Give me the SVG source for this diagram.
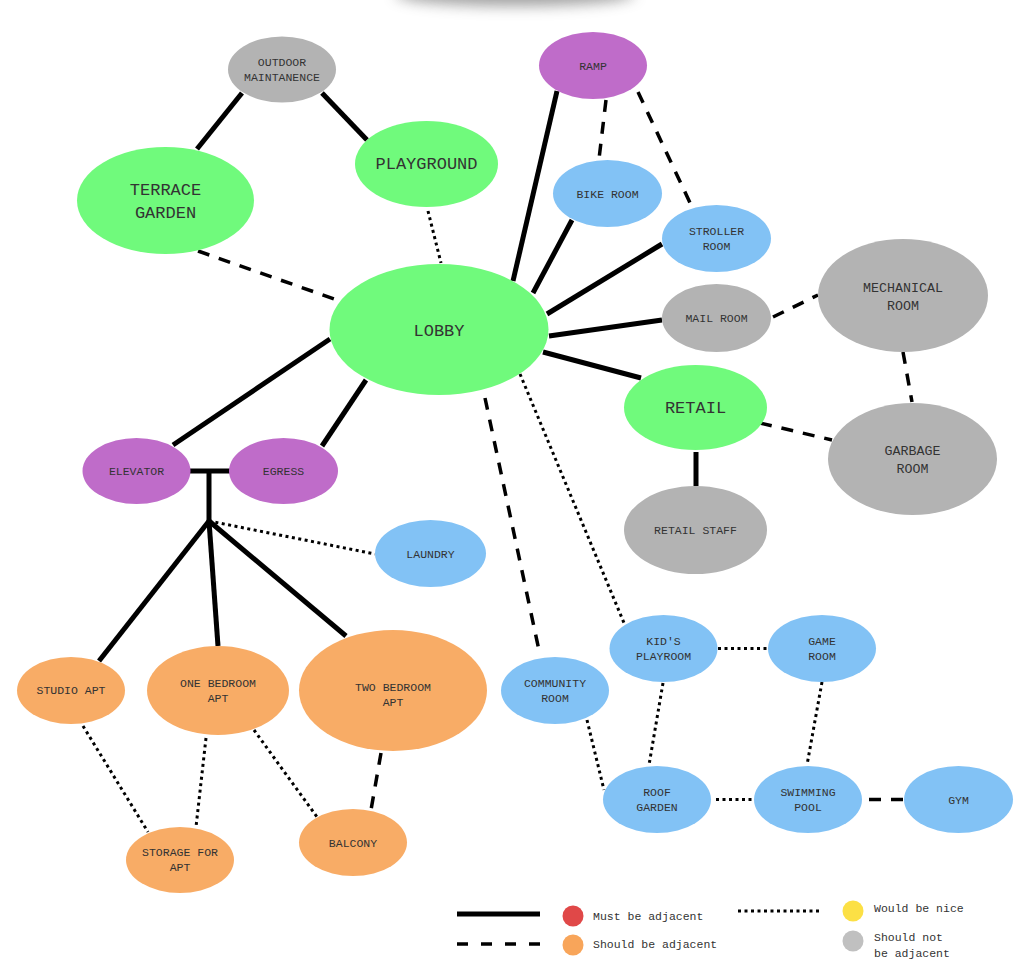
<svg xmlns="http://www.w3.org/2000/svg" width="1027" height="973" viewBox="0 0 1027 973">
<defs>
<filter id="blur" x="-50%" y="-200%" width="200%" height="500%"><feGaussianBlur stdDeviation="7"/></filter>
<style>
.g{fill:#70FA7C}.p{fill:#BF6CC9}.b{fill:#82C2F5}.k{fill:#B3B3B3}.o{fill:#F8AC66}
text{font-family:"Liberation Mono","DejaVu Sans Mono",monospace;fill:#333;text-anchor:middle}
.s{font-size:11.5px}.m{font-size:13.3px}.l{font-size:17px}
.lg{font-size:11.5px;text-anchor:start}
.solid{stroke:#000;stroke-width:5;fill:none}
.dash{stroke:#000;stroke-width:3.5;stroke-dasharray:12 10;fill:none}
.dot{stroke:#000;stroke-width:3;stroke-dasharray:3 3.5;fill:none}
</style>
</defs>
<rect width="1027" height="973" fill="#fff"/>
<ellipse cx="515" cy="-6" rx="120" ry="12" fill="#555" opacity="0.55" filter="url(#blur)"/>

<g id="connectors">
<line class="solid" x1="242" y1="93" x2="197" y2="149"/>
<line class="solid" x1="322" y1="93" x2="367" y2="140"/>
<line class="dash" x1="198" y1="251" x2="340" y2="301"/>
<line class="dot" x1="428" y1="211" x2="441" y2="263"/>
<line class="solid" x1="513" y1="281" x2="557" y2="91"/>
<line class="solid" x1="533" y1="293" x2="572" y2="220"/>
<line class="solid" x1="547" y1="314" x2="662" y2="244"/>
<line class="solid" x1="549" y1="336" x2="662" y2="320"/>
<line class="solid" x1="543" y1="352" x2="641" y2="378"/>
<line class="solid" x1="330" y1="339" x2="173" y2="445"/>
<line class="solid" x1="366" y1="380" x2="322" y2="446"/>
<line class="dash" x1="606" y1="100" x2="599" y2="159"/>
<line class="dash" x1="638" y1="92" x2="692" y2="207"/>
<line class="dash" x1="773" y1="317" x2="818" y2="295"/>
<line class="dash" x1="903" y1="352" x2="912" y2="402"/>
<line class="dash" x1="760" y1="423" x2="832" y2="440"/>
<line class="solid" x1="696" y1="452" x2="696" y2="486"/>
<line class="dash" x1="485" y1="398" x2="540" y2="655"/>
<line class="dot" x1="520" y1="374" x2="624" y2="623"/>
<line class="solid" x1="190" y1="471" x2="230" y2="471"/>
<line class="solid" x1="209" y1="471" x2="209" y2="521"/>
<line class="solid" x1="209" y1="521" x2="99" y2="661"/>
<line class="solid" x1="209" y1="521" x2="218" y2="646"/>
<line class="solid" x1="209" y1="521" x2="346" y2="636"/>
<line class="dot" x1="209" y1="521" x2="375" y2="554"/>
<line class="dot" x1="83" y1="726" x2="148" y2="832"/>
<line class="dot" x1="206" y1="738" x2="196" y2="827"/>
<line class="dot" x1="254" y1="730" x2="317" y2="817"/>
<line class="dash" x1="381" y1="753" x2="371" y2="810"/>
<line class="dot" x1="718" y1="648.5" x2="768" y2="648.5"/>
<line class="dot" x1="663" y1="683" x2="649" y2="765"/>
<line class="dot" x1="822" y1="682" x2="807" y2="765"/>
<line class="dot" x1="587" y1="720" x2="604" y2="790"/>
<line class="dot" x1="716" y1="799.5" x2="753" y2="799.5"/>
<line class="dash" x1="869" y1="799.5" x2="903" y2="799.5"/>
</g>

<g id="outdoor-maintanence"><ellipse class="k" cx="282" cy="69.5" rx="54" ry="33"/><text class="s" x="282" y="66">OUTDOOR</text><text class="s" x="282" y="81">MAINTANENCE</text></g>
<g id="terrace-garden"><ellipse class="g" cx="165.5" cy="200.5" rx="88.5" ry="53.5"/><text class="l" x="165.5" y="195">TERRACE</text><text class="l" x="165.5" y="218">GARDEN</text></g>
<g id="playground"><ellipse class="g" cx="426.5" cy="164" rx="71.5" ry="43"/><text class="l" x="426.5" y="169">PLAYGROUND</text></g>
<g id="lobby"><ellipse class="g" cx="439" cy="329.5" rx="109.5" ry="65.5"/><text class="l" x="439" y="336">LOBBY</text></g>
<g id="ramp"><ellipse class="p" cx="593" cy="65.5" rx="54" ry="33.5"/><text class="s" x="593" y="69.5">RAMP</text></g>
<g id="bike-room"><ellipse class="b" cx="607.5" cy="193.5" rx="54.5" ry="33.5"/><text class="s" x="607.5" y="197.5">BIKE ROOM</text></g>
<g id="stroller-room"><ellipse class="b" cx="716.5" cy="238.5" rx="54.5" ry="33.5"/><text class="s" x="716.5" y="235">STROLLER</text><text class="s" x="716.5" y="250">ROOM</text></g>
<g id="mail-room"><ellipse class="k" cx="716.5" cy="318" rx="54.5" ry="34"/><text class="s" x="716.5" y="322">MAIL ROOM</text></g>
<g id="mechanical-room"><ellipse class="k" cx="903" cy="295.5" rx="85" ry="56.5"/><text class="m" x="903" y="291.5">MECHANICAL</text><text class="m" x="903" y="309.5">ROOM</text></g>
<g id="retail"><ellipse class="g" cx="695.5" cy="407.5" rx="71.5" ry="42.5"/><text class="l" x="695.5" y="413">RETAIL</text></g>
<g id="garbage-room"><ellipse class="k" cx="912.5" cy="459" rx="84.5" ry="56"/><text class="m" x="912.5" y="454.5">GARBAGE</text><text class="m" x="912.5" y="472.5">ROOM</text></g>
<g id="retail-staff"><ellipse class="k" cx="695.5" cy="530" rx="71.5" ry="44"/><text class="s" x="695.5" y="534">RETAIL STAFF</text></g>
<g id="elevator"><ellipse class="p" cx="136.5" cy="471" rx="54" ry="33"/><text class="s" x="136.5" y="475">ELEVATOR</text></g>
<g id="egress"><ellipse class="p" cx="283.5" cy="471" rx="54.5" ry="33"/><text class="s" x="283.5" y="475">EGRESS</text></g>
<g id="laundry"><ellipse class="b" cx="430.5" cy="553.5" rx="55.5" ry="33.5"/><text class="s" x="430.5" y="557.5">LAUNDRY</text></g>
<g id="studio-apt"><ellipse class="o" cx="71" cy="690.5" rx="54" ry="33.5"/><text class="s" x="71" y="694">STUDIO APT</text></g>
<g id="one-bedroom-apt"><ellipse class="o" cx="218" cy="690.5" rx="71" ry="44.5"/><text class="s" x="218" y="687">ONE BEDROOM</text><text class="s" x="218" y="702">APT</text></g>
<g id="two-bedroom-apt"><ellipse class="o" cx="393" cy="690.5" rx="94" ry="60.5"/><text class="s" x="393" y="691">TWO BEDROOM</text><text class="s" x="393" y="706">APT</text></g>
<g id="storage-for-apt"><ellipse class="o" cx="180" cy="860" rx="54" ry="33"/><text class="s" x="180" y="856">STORAGE FOR</text><text class="s" x="180" y="871">APT</text></g>
<g id="balcony"><ellipse class="o" cx="353" cy="842.5" rx="54" ry="33.5"/><text class="s" x="353" y="847">BALCONY</text></g>
<g id="community-room"><ellipse class="b" cx="555" cy="690.5" rx="54" ry="33.5"/><text class="s" x="555" y="687">COMMUNITY</text><text class="s" x="555" y="702">ROOM</text></g>
<g id="kids-playroom"><ellipse class="b" cx="663.5" cy="648.5" rx="54" ry="33.5"/><text class="s" x="663.5" y="645">KID'S</text><text class="s" x="663.5" y="660">PLAYROOM</text></g>
<g id="game-room"><ellipse class="b" cx="822" cy="648.5" rx="54" ry="33.5"/><text class="s" x="822" y="645">GAME</text><text class="s" x="822" y="660">ROOM</text></g>
<g id="roof-garden"><ellipse class="b" cx="657" cy="799.5" rx="54" ry="33.5"/><text class="s" x="657" y="796">ROOF</text><text class="s" x="657" y="811">GARDEN</text></g>
<g id="swimming-pool"><ellipse class="b" cx="808" cy="799.5" rx="54" ry="33.5"/><text class="s" x="808" y="796">SWIMMING</text><text class="s" x="808" y="811">POOL</text></g>
<g id="gym"><ellipse class="b" cx="958.5" cy="799.5" rx="54.5" ry="33.5"/><text class="s" x="958.5" y="803.5">GYM</text></g>

<g id="legend">
<line class="solid" x1="457" y1="914" x2="540" y2="914"/>
<circle cx="573" cy="916" r="10.5" fill="#E04848"/>
<text class="lg" x="593" y="920">Must be adjacent</text>
<line x1="457" y1="944" x2="540" y2="944" stroke="#000" stroke-width="3.5" stroke-dasharray="11 13"/>
<circle cx="573" cy="945" r="10.5" fill="#F8A55A"/>
<text class="lg" x="593" y="948">Should be adjacent</text>
<line class="dot" x1="738" y1="911" x2="822" y2="911"/>
<circle cx="853" cy="911" r="10.5" fill="#FCE045"/>
<text class="lg" x="874" y="912">Would be nice</text>
<circle cx="853" cy="941" r="10.5" fill="#C0C0C0"/>
<text class="lg" x="874" y="941">Should not</text>
<text class="lg" x="874" y="957">be adjacent</text>
</g>
</svg>
